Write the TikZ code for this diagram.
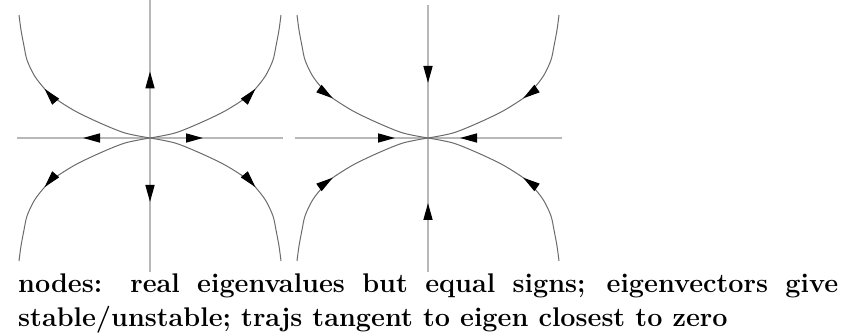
\documentclass[tikz,border=0pt]{standalone}
\usetikzlibrary{arrows.meta,decorations.markings}
\definecolor{axisgray}{gray}{0.72}
\definecolor{trajgray}{gray}{0.42}
\tikzset{
  headtip/.tip={Triangle[length=17pt,width=9pt,color=black]},
  outhead/.style={postaction={decorate},decoration={markings,mark=at position #1 with {\arrow{headtip}}}},
  inhead/.style={postaction={decorate},decoration={markings,mark=at position #1 with {\arrowreversed{headtip}}}},
  axisline/.style={draw=axisgray,line width=1.6pt},
  trajline/.style={draw=trajgray,line width=1pt},
  caption/.style={anchor=base west,inner sep=0pt,font=\fontsize{27}{32}\selectfont\bfseries},
}
\begin{document}
\begin{tikzpicture}[x=1pt,y=1pt]
\useasboundingbox (0,0) rectangle (863,334);
% left panel
\coordinate (c1) at (150,196);
\coordinate (u1) at (150,334);
\coordinate (d1) at (150,62);
\coordinate (l1) at (17,196);
\coordinate (r1) at (283,196);
\draw[axisline,outhead=66.6pt] (c1) -- (u1);
\draw[axisline,outhead=64pt] (c1) -- (d1);
\draw[axisline,outhead=67pt] (c1) -- (l1);
\draw[axisline,outhead=53pt] (c1) -- (r1);
\foreach \sx in {1,-1}{
  \foreach \sy in {1,-1}{
    \draw[trajline,outhead=118pt,shift={(c1)},xscale=\sx,yscale=\sy]
      plot[smooth,tension=0.5] coordinates {(0,0) (25,5) (50,15) (75,27) (97,41) (107,51) (116,63) (123,78) (126,92) (129,108) (131,123)};
  }
}
% right panel
\coordinate (c2) at (428,196);
\coordinate (u2) at (428,329);
\coordinate (d2) at (428,62);
\coordinate (l2) at (295,196);
\coordinate (r2) at (562,196);
\draw[axisline,inhead=55pt] (c2) -- (u2);
\draw[axisline,inhead=65pt] (c2) -- (d2);
\draw[axisline,inhead=33pt] (c2) -- (l2);
\draw[axisline,inhead=32pt] (c2) -- (r2);
\foreach \sx in {1,-1}{
  \foreach \sy in {1,-1}{
    \draw[trajline,inhead=104pt,shift={(c2)},xscale=\sx,yscale=\sy]
      plot[smooth,tension=0.5] coordinates {(0,0) (25,5) (50,15) (75,27) (97,41) (107,51) (116,63) (123,78) (126,92) (129,108) (131,123)};
  }
}
% caption
\node[caption] (t1) at (18,41) {\makebox[820pt][s]{nodes: real eigenvalues but equal signs; eigenvectors give}};
\node[caption] (t2) at (18,7) {stable/unstable; trajs tangent to eigen closest to zero};
\end{tikzpicture}
\end{document}
